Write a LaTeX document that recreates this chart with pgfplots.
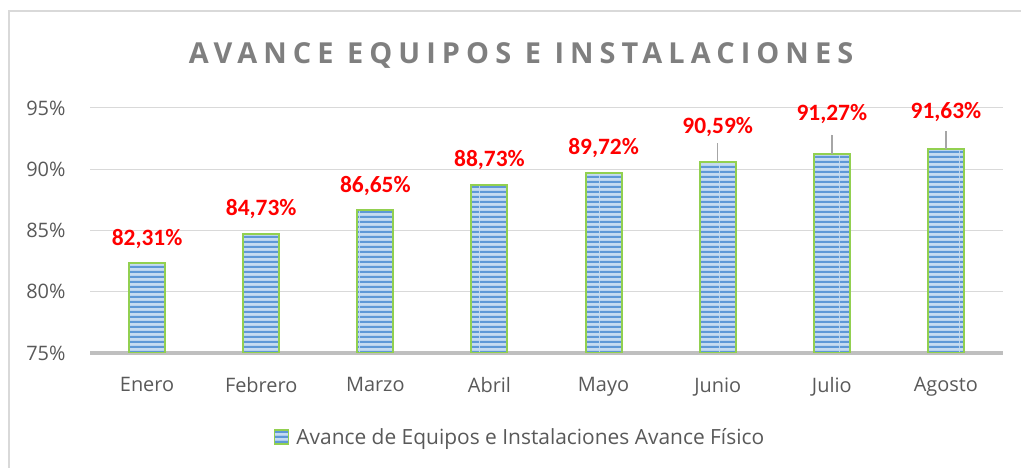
\documentclass[border=0pt]{standalone}
\usepackage{pgfplots}
\pgfplotsset{compat=1.18}
\usepackage{pgfplotstable}
\usepackage{fontspec}
\setmainfont{Open Sans}
\newfontfamily\labfont{Carlito}
\usetikzlibrary{patterns}
\definecolor{barlight}{HTML}{C5DBF1}
\definecolor{bardark}{HTML}{5E98D6}
\definecolor{bargreen}{HTML}{92D050}
\definecolor{txtgray}{HTML}{595959}
\definecolor{titlegray}{HTML}{7F7F7F}
\definecolor{gridgray}{HTML}{D9D9D9}
\definecolor{axisgray}{HTML}{BFBFBF}
\pgfdeclarepatternformonly{hstripes}{\pgfpointorigin}{\pgfqpoint{60bp}{5bp}}{\pgfqpoint{60bp}{5bp}}{%
  \pgfpathrectangle{\pgfpointorigin}{\pgfqpoint{60bp}{2.5bp}}\pgfusepath{fill}}
\pgfplotstableread{
x y off err
0 82.31 24.5 0
1 84.73 25 0
2 86.65 24 0
3 88.73 25 0
4 89.72 24.5 0
5 90.59 35 1.55
6 91.27 40 1.55
7 91.63 37 1.47
}\datatable
\begin{document}
\begin{tikzpicture}
\path[use as bounding box] (0,0) rectangle (1021bp,468bp);
\draw[gridgray, line width=1.5bp] (9bp,-5bp) -- (9bp,457bp) -- (1030bp,457bp);
\node[font=\fontsize{29}{32}\selectfont\bfseries\addfontfeature{LetterSpace=21}, text=titlegray] at (521bp,413bp) {AVANCE EQUIPOS E INSTALACIONES};
\begin{axis}[
  at={(90bp,115bp)}, anchor=south west,
  scale only axis, width=913bp, height=245bp,
  ymin=75, ymax=95, ytick={75,80,85,90,95},
  yticklabel={\pgfmathprintnumber{\tick}\%},
  xmin=-0.5, xmax=7.5, xtick=data,
  xticklabels={Enero,Febrero,Marzo,Abril,Mayo,Junio,Julio,Agosto},
  ymajorgrids, grid style={gridgray, line width=1bp},
  axis x line*=bottom, axis y line*=left,
  x axis line style={axisgray, line width=3bp, -},
  y axis line style={draw=none},
  major tick length=0pt,
  tick label style={font=\fontsize{20}{24}\selectfont, text=txtgray},
  yticklabel style={xshift=-21bp},
  xticklabel style={yshift=-21bp},
  /pgf/number format/assume math mode=true,
  legend style={at={(0.471,-0.343)}, anchor=center, draw=none, font=\fontsize{21}{24}\selectfont, text=txtgray,
    legend image code/.code={\draw[fill=barlight, draw=bargreen, line width=1.5bp, postaction={pattern=hstripes, pattern color=bardark}] (-3bp,-7bp) rectangle (11bp,7bp);}},
]
\addplot[ybar, bar width=36bp, bar shift=0pt, fill=barlight, draw=bargreen, line width=2bp,
  postaction={pattern=hstripes, pattern color=bardark},
  visualization depends on={\thisrow{off} \as \off},
  nodes near coords={\pgfmathprintnumber[fixed,fixed zerofill,precision=2,use comma]{\pgfplotspointmeta}\%},
  nodes near coords style={anchor=center, yshift=\off bp, text=red, font=\labfont\fontsize{23.5}{26}\selectfont\bfseries, /pgf/number format/assume math mode=true},
  error bars/.cd, y dir=plus, y explicit, error mark=none,
  error bar style={color=black!35, line width=1.5bp}]
  table[x=x, y=y, y error=err] {\datatable};
\addlegendentry{\hspace{5bp}Avance de Equipos e Instalaciones Avance Físico}
\end{axis}
\end{tikzpicture}
\end{document}
